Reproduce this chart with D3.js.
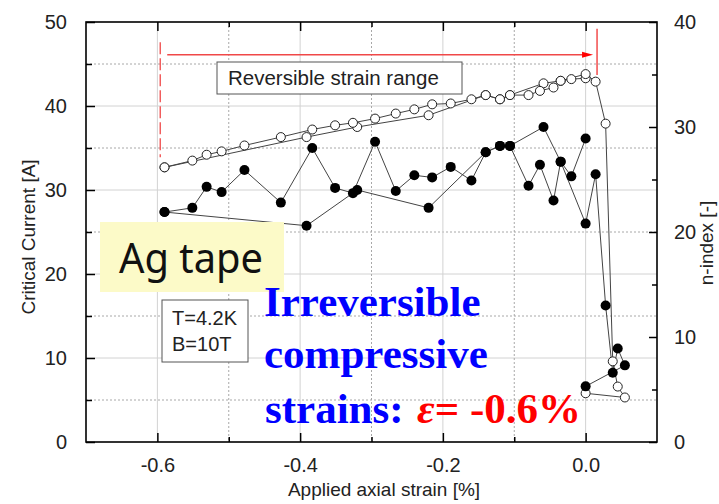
<!DOCTYPE html>
<html>
<head>
<meta charset="utf-8">
<script src="https://cdn.jsdelivr.net/npm/d3@7"></script>
<style>
  html, body { margin: 0; padding: 0; background: #fff; }
  svg { display: block; }
  text { font-family: "Liberation Sans", Arial, sans-serif; }
</style>
</head>
<body>
<svg id="chart" width="719" height="504"></svg>
<script>
// ---- data ----
// path 1: from 0 strain towards compression (-0.6 %)
const strainDown = [0.000, -0.020, -0.035, -0.059, -0.106, -0.120, -0.140, -0.220, -0.320, -0.391, -0.590];
const icDown     = [43.3, 43.2, 43.0, 42.7, 41.3, 40.8, 41.3, 38.9, 37.5, 36.3, 32.7];
const nDown      = [28.9, 25.3, 26.7, 30.0, 28.2, 28.2, 27.6, 22.3, 24.0, 20.6, 21.9];
// path 2: from -0.6 % back to 0 and into tension
const strainUp = [-0.590, -0.551, -0.531, -0.510, -0.478, -0.427, -0.383, -0.351, -0.326, -0.295,
                  -0.266, -0.240, -0.215, -0.189, -0.160, -0.140, -0.120, -0.106, -0.080, -0.064,
                  -0.045, -0.035, 0.000, 0.014, 0.028, 0.038, 0.045, 0.055, 0.000];
const icUp     = [32.7, 33.5, 34.2, 34.6, 35.3, 36.3, 37.2, 37.7, 38.0, 38.5,
                  39.1, 39.6, 40.2, 40.3, 40.8, 41.3, 40.8, 41.3, 41.3, 41.8,
                  42.2, 43.0, 43.8, 42.9, 37.9, 9.6, 6.6, 5.3, 5.8];
const nUp      = [21.9, 22.3, 24.3, 23.8, 25.9, 22.8, 28.0, 24.2, 23.7, 28.6,
                  23.9, 25.4, 25.2, 26.2, 24.9, 27.6, 28.2, 28.2, 24.4, 26.4,
                  23.0, 26.7, 20.8, 25.5, 13.0, 6.6, 8.9, 7.3, 5.3];

const xMajorTicks = [-0.6, -0.4, -0.2, 0.0];
const xMinorTicks = [-0.5, -0.3, -0.1];
const icMajorTicks = [0, 10, 20, 30, 40, 50];
const icMinorTicks = [5, 15, 25, 35, 45];
const nMajorTicks = [0, 10, 20, 30, 40];
const nMinorTicks = [5, 15, 25, 35];

// annotation values (data units)
const rangeStart = -0.596, rangeEnd = 0.016;

// ---- layout ----
const svg = d3.select("#chart");
const L = 86, R = 657, T = 22, B = 442;
const x = d3.scaleLinear().domain([-0.7, 0.1]).range([L, R]);
const yL = d3.scaleLinear().domain([0, 50]).range([B, T]);
const yR = d3.scaleLinear().domain([0, 40]).range([B, T]);

// ---- grid ----
const grid = svg.append("g");
icMajorTicks.filter(v => v > 0 && v < 50).forEach(v => {
  grid.append("line").attr("x1", L).attr("x2", R).attr("y1", yL(v)).attr("y2", yL(v))
    .attr("stroke", "#d2d2d2").attr("stroke-width", 1);
});
icMinorTicks.forEach(v => {
  grid.append("line").attr("x1", L).attr("x2", R).attr("y1", yL(v)).attr("y2", yL(v))
    .attr("stroke", "#a8a8a8").attr("stroke-width", 1).attr("stroke-dasharray", "2,2");
});
xMajorTicks.forEach(v => {
  grid.append("line").attr("x1", x(v)).attr("x2", x(v)).attr("y1", T).attr("y2", B)
    .attr("stroke", "#d2d2d2").attr("stroke-width", 1);
});
xMinorTicks.forEach(v => {
  grid.append("line").attr("x1", x(v)).attr("x2", x(v)).attr("y1", T).attr("y2", B)
    .attr("stroke", "#a8a8a8").attr("stroke-width", 1).attr("stroke-dasharray", "2,2");
});

// ---- data lines ----
const down = strainDown.map((s, i) => ({ s, ic: icDown[i], n: nDown[i] }));
const up = strainUp.map((s, i) => ({ s, ic: icUp[i], n: nUp[i] }));
const lineIc = d3.line().x(d => x(d.s)).y(d => yL(d.ic));
const lineN = d3.line().x(d => x(d.s)).y(d => yR(d.n));
const lines = svg.append("g").attr("fill", "none").attr("stroke", "#444").attr("stroke-width", 1);
[down, up].forEach(p => {
  lines.append("path").attr("d", lineIc(p));
  lines.append("path").attr("d", lineN(p));
});

// ---- markers ----
const mk = svg.append("g");
[down, up].forEach(p => {
  mk.selectAll(null).data(p).enter().append("circle")
    .attr("cx", d => x(d.s)).attr("cy", d => yL(d.ic)).attr("r", 4.5)
    .attr("fill", "#fff").attr("stroke", "#222").attr("stroke-width", 1);
});
[down, up].forEach(p => {
  mk.selectAll(null).data(p).enter().append("circle")
    .attr("cx", d => x(d.s)).attr("cy", d => yR(d.n)).attr("r", 5)
    .attr("fill", "#000");
});

// ---- frame & axes ----
svg.append("rect").attr("x", L).attr("y", T).attr("width", R - L).attr("height", B - T)
  .attr("fill", "none").attr("stroke", "#000").attr("stroke-width", 1.6);

function styleAxis(g) {
  g.select(".domain").remove();
  g.selectAll(".tick line").attr("stroke", "#000").attr("stroke-width", 1.5);
  g.selectAll("text").attr("fill", "#222").style("font-size", "20px")
    .style("font-family", "'Liberation Sans', Arial, sans-serif");
}
const fmtX = d => d.toFixed(1);
// bottom
svg.append("g").attr("transform", `translate(0,${B})`)
  .call(d3.axisBottom(x).tickValues(xMajorTicks).tickSizeInner(-9).tickSizeOuter(0)
    .tickPadding(16).tickFormat(fmtX)).call(styleAxis);
svg.append("g").attr("transform", `translate(0,${B})`)
  .call(d3.axisBottom(x).tickValues(xMinorTicks).tickSizeInner(-5).tickSizeOuter(0).tickFormat(""))
  .call(styleAxis);
// top
svg.append("g").attr("transform", `translate(0,${T})`)
  .call(d3.axisTop(x).tickValues(xMajorTicks).tickSizeInner(-9).tickSizeOuter(0).tickFormat(""))
  .call(styleAxis);
svg.append("g").attr("transform", `translate(0,${T})`)
  .call(d3.axisTop(x).tickValues(xMinorTicks).tickSizeInner(-5).tickSizeOuter(0).tickFormat(""))
  .call(styleAxis);
// left
svg.append("g").attr("transform", `translate(${L},0)`)
  .call(d3.axisLeft(yL).tickValues(icMajorTicks).tickSizeInner(-9).tickSizeOuter(0)
    .tickPadding(19).tickFormat(d3.format("d"))).call(styleAxis);
svg.append("g").attr("transform", `translate(${L},0)`)
  .call(d3.axisLeft(yL).tickValues(icMinorTicks).tickSizeInner(-6).tickSizeOuter(0).tickFormat(""))
  .call(styleAxis);
// right
svg.append("g").attr("transform", `translate(${R},0)`)
  .call(d3.axisRight(yR).tickValues(nMajorTicks).tickSizeInner(-8).tickSizeOuter(0)
    .tickPadding(17).tickFormat(d3.format("d"))).call(styleAxis);
svg.append("g").attr("transform", `translate(${R},0)`)
  .call(d3.axisRight(yR).tickValues(nMinorTicks).tickSizeInner(-5).tickSizeOuter(0).tickFormat(""))
  .call(styleAxis);

// axis titles
svg.append("text").attr("x", 384).attr("y", 496).attr("text-anchor", "middle")
  .attr("fill", "#222").style("font-size", "19px").text("Applied axial strain [%]");
svg.append("text").attr("transform", "translate(35,237) rotate(-90)").attr("text-anchor", "middle")
  .attr("fill", "#222").style("font-size", "19px").text("Critical Current [A]");
svg.append("text").attr("transform", "translate(713,243) rotate(-90)").attr("text-anchor", "middle")
  .attr("fill", "#222").style("font-size", "19px").text("n-index [-]");

// ---- annotations ----
const ann = svg.append("g");
ann.append("line").attr("x1", x(rangeStart)).attr("x2", x(rangeStart))
  .attr("y1", yL(47.6)).attr("y2", yL(33.9))
  .attr("stroke", "#f04848").attr("stroke-width", 1.3).attr("stroke-dasharray", "12,4");
ann.append("line").attr("x1", x(rangeEnd)).attr("x2", x(rangeEnd))
  .attr("y1", yL(49.2)).attr("y2", yL(43.7))
  .attr("stroke", "#f03030").attr("stroke-width", 1.3);
const ay = yL(46.1);
const tipX = x(rangeEnd) - 4;
ann.append("line").attr("x1", x(rangeStart) + 7).attr("x2", tipX - 8)
  .attr("y1", ay).attr("y2", ay).attr("stroke", "#f04848").attr("stroke-width", 1.3);
ann.append("path").attr("d", `M${tipX},${ay} L${tipX - 11},${ay - 3} L${tipX - 11},${ay + 3} Z`)
  .attr("fill", "#ff0000");

// reversible strain range box
ann.append("rect").attr("x", 217).attr("y", 62).attr("width", 245).attr("height", 32)
  .attr("fill", "#fff").attr("stroke", "#555").attr("stroke-width", 1);
ann.append("text").attr("x", 228).attr("y", 85).attr("fill", "#222")
  .style("font-size", "20.5px").text("Reversible strain range");

// Ag tape box
ann.append("rect").attr("x", 100).attr("y", 222).attr("width", 184).attr("height", 70)
  .attr("fill", "#fcfac8");
ann.append("text").attr("x", 119).attr("y", 273).attr("fill", "#111")
  .style("font-family", "'Noto Sans', 'Open Sans', sans-serif").style("font-size", "41px")
  .attr("textLength", 144).attr("lengthAdjust", "spacingAndGlyphs").text("Ag tape");

// T / B box
ann.append("rect").attr("x", 162).attr("y", 300).attr("width", 86).attr("height", 62)
  .attr("fill", "#fff").attr("stroke", "#555").attr("stroke-width", 1);
ann.append("text").attr("x", 172).attr("y", 325).attr("fill", "#222").style("font-size", "20px").text("T=4.2K");
ann.append("text").attr("x", 172).attr("y", 351).attr("fill", "#222").style("font-size", "20px").text("B=10T");

// blue / red statement
const serif = "'Liberation Serif', 'Times New Roman', serif";
const st = ann.append("g").style("font-family", serif).style("font-weight", "bold").style("font-size", "43px");
st.append("text").attr("x", 264).attr("y", 316).attr("fill", "#0000ff").style("font-family", serif).text("Irreversible");
st.append("text").attr("x", 264).attr("y", 368).attr("fill", "#0000ff").style("font-family", serif).text("compressive");
const t3 = st.append("text").attr("x", 265).attr("y", 423).style("font-family", serif);
t3.append("tspan").attr("fill", "#0000ff").text("strains:");
t3.append("tspan").attr("x", 417).attr("fill", "#ff0000").style("font-style", "italic").text("ε");
t3.append("tspan").attr("fill", "#ff0000").text("= -0.6%");
</script>
</body>
</html>
